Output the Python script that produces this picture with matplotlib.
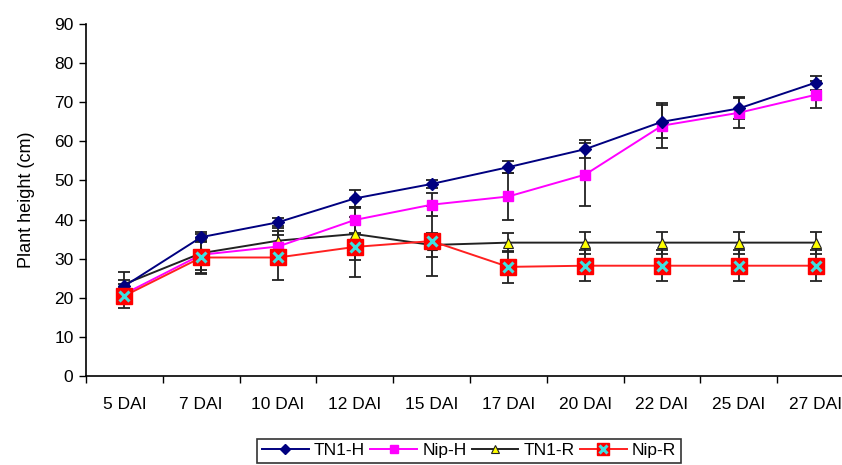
import matplotlib
matplotlib.use("Agg")
import matplotlib.pyplot as plt
from matplotlib.legend_handler import HandlerTuple
import numpy as np

plt.rcParams['font.family'] = ['Liberation Sans', 'DejaVu Sans']

categories = ["5 DAI", "7 DAI", "10 DAI", "12 DAI", "15 DAI", "17 DAI", "20 DAI", "22 DAI", "25 DAI", "27 DAI"]
tn1_h = [23.0, 35.5, 39.3, 45.4, 49.1, 53.4, 58.0, 65.0, 68.4, 75.0]
tn1_h_err = [1.5, 1.2, 1.0, 2.2, 1.0, 1.6, 2.3, 4.2, 2.8, 1.8]
nip_h = [21.0, 31.0, 33.1, 39.9, 43.8, 45.9, 51.5, 64.0, 67.3, 71.9]
nip_h_err = [1.5, 4.0, 4.1, 3.4, 3.0, 6.0, 8.0, 5.8, 4.0, 3.5]
tn1_r = [23.5, 31.4, 34.6, 36.3, 33.5, 34.1, 34.1, 34.1, 34.1, 34.1]
tn1_r_err = [3.0, 5.0, 3.2, 6.6, 3.0, 2.5, 2.8, 2.8, 2.8, 2.8]
nip_r = [20.5, 30.3, 30.3, 33.0, 34.5, 27.9, 28.2, 28.2, 28.2, 28.2]
nip_r_err = [3.0, 4.3, 5.8, 7.6, 9.0, 4.0, 4.0, 4.0, 4.0, 4.0]

fig = plt.figure(figsize=(8.42, 4.65), dpi=100)
ax = fig.add_axes([86/842, 1-376/465, 768/842, 352/465])

x = np.arange(len(categories))
ekw = dict(fmt='none', ecolor='#222222', elinewidth=1.3, capsize=4, capthick=1.3, zorder=2)
for vals, errs in [(tn1_h, tn1_h_err), (nip_h, nip_h_err), (tn1_r, tn1_r_err), (nip_r, nip_r_err)]:
    ax.errorbar(x, vals, yerr=errs, **ekw)

l1, = ax.plot(x, tn1_h, color='#000080', lw=1.4, marker='D', ms=6, mfc='#000080', mec='#000080', zorder=5)
l2, = ax.plot(x, nip_h, color='#FF00FF', lw=1.4, marker='s', ms=7, mfc='#FF00FF', mec='#FF00FF', zorder=4)
l3, = ax.plot(x, tn1_r, color='#222222', lw=1.4, marker='^', ms=7, mfc='#FFFF00', mec='#222222', mew=0.8, zorder=3)
l4, = ax.plot(x, nip_r, color='#FF2020', lw=1.4, marker='s', ms=11, mfc='#FF0000', mec='#FF0000', zorder=6)
l4x, = ax.plot(x, nip_r, ls='none', marker='x', ms=6.5, mew=2.2, color='#40E0E0', zorder=7)

ax.set_xlim(-0.5, len(categories) - 0.5)
ax.set_ylim(0, 90)
ax.set_yticks(np.arange(0, 91, 10))
ax.set_xticks(x)
ax.set_xticklabels(categories)
ax.set_xticks(np.arange(-0.5, len(categories), 1.0), minor=True)
ax.tick_params(axis='x', which='major', length=0, pad=15, labelsize=12.5)
ax.tick_params(axis='x', which='minor', length=5, width=1, direction='out')
ax.tick_params(axis='y', length=5, width=1, direction='out', labelsize=12.5, pad=4)
for s in ['top', 'right']:
    ax.spines[s].set_visible(False)
for s in ['left', 'bottom']:
    ax.spines[s].set_linewidth(1.2)
ax.set_ylabel("Plant height (cm)", fontsize=13, labelpad=14)

leg = fig.legend([l1, l2, l3, (l4, l4x)], ["TN1-H", "Nip-H", "TN1-R", "Nip-R"],
                 handler_map={tuple: HandlerTuple(ndivide=1, pad=0)},
                 loc='upper center', bbox_to_anchor=(469/842, 1-430/465), ncol=4,
                 frameon=True, fancybox=False, edgecolor='black', fontsize=12.5,
                 handlelength=2.7, columnspacing=0.3, handletextpad=0.3, borderpad=0.25,
                 markerscale=0.8)
leg.get_frame().set_linewidth(1.2)

fig.savefig("out.png", dpi=100)
